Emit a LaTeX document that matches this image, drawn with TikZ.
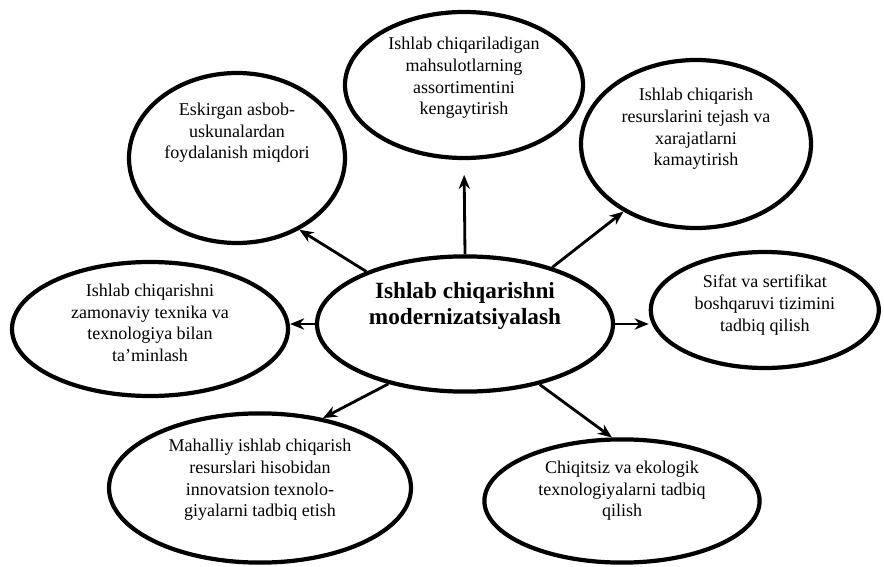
\documentclass[tikz,border=0pt]{standalone}
\usepackage{fontspec}
\setmainfont{Liberation Serif}
\usetikzlibrary{shapes.geometric,arrows.meta}
\tikzset{
  bubble/.style={draw,ellipse,line width=3pt,inner sep=0pt},
  btext/.style={align=center,font=\fontsize{12.8}{15.4}\selectfont,inner sep=0pt},
}
\begin{document}
\begin{tikzpicture}[>={Stealth[length=10pt,width=8pt]},line join=round]
	\useasboundingbox (0,0) rectangle (22.1,-14.175);
	% ellipses
	\node[bubble,minimum width=7.4cm,minimum height=3.38cm] (cen) at(11.625,-8.1){};
	\node[bubble,minimum width=5.95cm,minimum height=3.65cm] (top) at(11.6,-2.125){};
	\node[bubble,minimum width=5.4cm,minimum height=4.25cm] (tl) at(5.925,-3.95){};
	\node[bubble,minimum width=5.75cm,minimum height=4.2cm] (tr) at(17.4,-3.6){};
	\node[bubble,minimum width=6.9cm,minimum height=3.35cm] (lft) at(3.75,-8.225){};
	\node[bubble,minimum width=5.7cm,minimum height=2.9cm] (rgt) at(19.12,-7.75){};
	\node[bubble,minimum width=7.55cm,minimum height=3.73cm] (bl) at(6.5,-12.2){};
	\node[bubble,minimum width=6.88cm,minimum height=3.08cm] (br) at(15.55,-12.525){};

	% texts
	\node[btext,font=\fontsize{16.5}{18.6}\selectfont\bfseries] (cen-t) at([yshift=0.45cm]cen.center)
		{Ishlab chiqarishni\\modernizatsiyalash};
	\node[btext] (top-t) at([yshift=0.175cm]top.center)
		{Ishlab chiqariladigan\\mahsulotlarning\\assortimentini\\kengaytirish};
	\node[btext] (tl-t) at([yshift=0.625cm]tl.center)
		{Eskirgan asbob-\\uskunalardan\\foydalanish miqdori};
	\node[btext] (tr-t) at([yshift=0.375cm]tr.center)
		{Ishlab chiqarish\\resurslarini tejash va\\xarajatlarni\\kamaytirish};
	\node[btext] (lft-t) at([yshift=0.15cm]lft.center)
		{Ishlab chiqarishni\\zamonaviy texnika va\\texnologiya bilan\\ta'minlash};
	\node[btext] (rgt-t) at([yshift=0.125cm]rgt.center)
		{Sifat va sertifikat\\boshqaruvi tizimini\\tadbiq qilish};
	\node[btext] (bl-t) at([yshift=0.2cm]bl.center)
		{Mahalliy ishlab chiqarish\\resurslari hisobidan\\innovatsion texnolo-\\giyalarni tadbiq etish};
	\node[btext] (br-t) at([yshift=0.25cm]br.center)
		{Chiqitsiz va ekologik\\texnologiyalarni tadbiq\\qilish};

	% arrows
	\path[->,line width=2pt]
		(cen.90) edge [shorten >=0.37cm] (top.270)
		(cen.152) edge (tl.311)
		(cen.33) edge (tr.223)
		(cen.west) edge (cen.west -| lft.east)
		(cen.east) edge (cen.east -| rgt.west)
		(cen.218) edge (bl.48)
		(cen.321) edge (br.99);
\end{tikzpicture}
\end{document}
